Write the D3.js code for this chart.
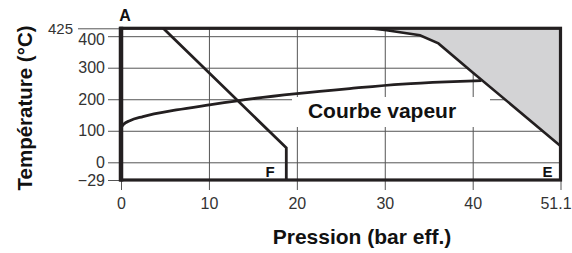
<!DOCTYPE html>
<html><head><meta charset="utf-8">
<script src="https://cdn.jsdelivr.net/npm/d3@7"></script>
<style>
html,body{margin:0;padding:0;background:#fff;}
text{font-family:Arial,"Liberation Sans",sans-serif;}
</style></head>
<body>
<svg id="c" width="572" height="253"></svg>
<script>
// ---- data ----
const xTicks = [0, 10, 20, 30, 40, 51.1];
const yTicks = [-29, 0, 100, 200, 300, 400, 425];
const xDomain = [0, 51.1];
const yDomain = [-29, 425];

// vapour (saturation) curve
const vapP = [0, 0.3, 1, 2.5, 6.3, 10, 15, 20, 26, 32, 37, 41.1];
const vapT = [111, 121, 132, 145, 166, 182, 202, 218, 234, 248, 255, 259];

// limit line F
const limP = [4.8, 18.8, 18.8];
const limT = [425, 46, -29];

// shaded zone boundary
const zoneP = [28.3, 30.2, 34, 36.1, 40, 51.1];
const zoneT = [425, 419, 403, 377, 285, 52];

const labels = {title: "Courbe vapeur", xTitle: "Pression (bar eff.)", yTitle: "Température (°C)"};

// ---- scales ----
const x = d3.scaleLinear().domain([0, 40, 51.1]).range([121, 472.7, 560.5]);
const y = d3.scaleLinear().domain([-29, 0, 425]).range([180, 162.3, 28.3]);

const svg = d3.select("#c");
const ink = "#231f20";

// grid via axes
const xAxisY = 190;
const gx = svg.append("g").attr("transform", `translate(0,${xAxisY})`)
  .call(d3.axisBottom(x).tickValues(xTicks).tickSizeInner(-(xAxisY - y(425))).tickSizeOuter(0).tickPadding(8)
    .tickFormat(d => d === 51.1 ? "51.1" : d3.format("d")(d)));
gx.select(".domain").remove();
gx.selectAll(".tick line").attr("stroke", "#555").attr("stroke-width", 1);
gx.selectAll(".tick text").attr("fill", "#333").style("font-size", "16px");
gx.selectAll(".tick").filter(d => d === 51.1).select("text").attr("x", -5);

const yAxisX = 108;
const gy = svg.append("g").attr("transform", `translate(${yAxisX},0)`)
  .call(d3.axisLeft(y).tickValues(yTicks).tickSizeInner(-(x(51.1) - yAxisX)).tickSizeOuter(0).tickPadding(3));
gy.select(".domain").remove();
gy.selectAll(".tick line").attr("stroke", "#555").attr("stroke-width", 1);
gy.selectAll(".tick text").attr("fill", "#333").style("font-size", "16px");
gy.selectAll(".tick").filter(d => d === 425).each(function() {
  d3.select(this).select("line").attr("x1", -30);
  d3.select(this).select("text").attr("x", -35).style("font-size", "15px");
});
gy.selectAll(".tick").filter(d => d === 400).select("text").attr("dy", "0.55em");

// shaded zone
const zonePts = zoneP.map((p, i) => [p, zoneT[i]]);
const fillPts = zonePts.concat([[51.1, 425]]);
svg.append("path")
  .attr("d", d3.line().x(d => x(d[0])).y(d => y(d[1]))(fillPts) + "Z")
  .attr("fill", "#d3d3d5");

// label background
svg.append("rect").attr("x", 292).attr("y", 97).attr("width", 198).attr("height", 30).attr("fill", "#fff");
svg.append("text").attr("x", 382).attr("y", 117.5).attr("text-anchor", "middle")
  .style("font-size", "21px").style("font-weight", "bold").attr("fill", "#111").text(labels.title);

// curves
svg.append("path")
  .attr("d", d3.line().x(d => x(d[0])).y(d => y(d[1])).curve(d3.curveMonotoneX)(vapP.map((p, i) => [p, vapT[i]])))
  .attr("fill", "none").attr("stroke", ink).attr("stroke-width", 2.8);
svg.append("path")
  .attr("d", d3.line().x(d => x(d[0])).y(d => y(d[1]))(limP.map((p, i) => [p, limT[i]])))
  .attr("fill", "none").attr("stroke", ink).attr("stroke-width", 2.8);
svg.append("path")
  .attr("d", d3.line().x(d => x(d[0])).y(d => y(d[1]))(zonePts))
  .attr("fill", "none").attr("stroke", ink).attr("stroke-width", 2.6);

// frame
const fx0 = x(xDomain[0]), fx1 = x(xDomain[1]), fy0 = y(yDomain[0]), fy1 = y(yDomain[1]);
svg.append("rect").attr("x", fx0).attr("y", fy1).attr("width", fx1 - fx0).attr("height", fy0 - fy1)
  .attr("fill", "none").attr("stroke", ink).attr("stroke-width", 3.2);
svg.append("line").attr("x1", fx0).attr("x2", fx0).attr("y1", fy1 - 1.5).attr("y2", fy0 + 1.5)
  .attr("stroke", ink).attr("stroke-width", 4.5);

// corner letters
const bold = (s, fs) => s.style("font-weight", "bold").style("font-size", fs).attr("fill", "#111");
svg.append("text").attr("x", 125).attr("y", 20.5).attr("text-anchor", "middle").text("A").call(bold, "16px");
svg.append("text").attr("x", 547.5).attr("y", 176.5).attr("text-anchor", "middle").text("E").call(bold, "15px");
svg.append("text").attr("x", 270).attr("y", 176.5).attr("text-anchor", "middle").text("F").call(bold, "15px");

// axis titles
svg.append("text").attr("x", 362).attr("y", 243.5).attr("text-anchor", "middle")
  .style("font-size", "21px").style("font-weight", "bold").attr("fill", "#111").text(labels.xTitle);
svg.append("text").attr("transform", "translate(32,108) rotate(-90)").attr("text-anchor", "middle")
  .style("font-size", "20.5px").style("font-weight", "bold").attr("fill", "#111").text(labels.yTitle);
</script>
</body></html>
